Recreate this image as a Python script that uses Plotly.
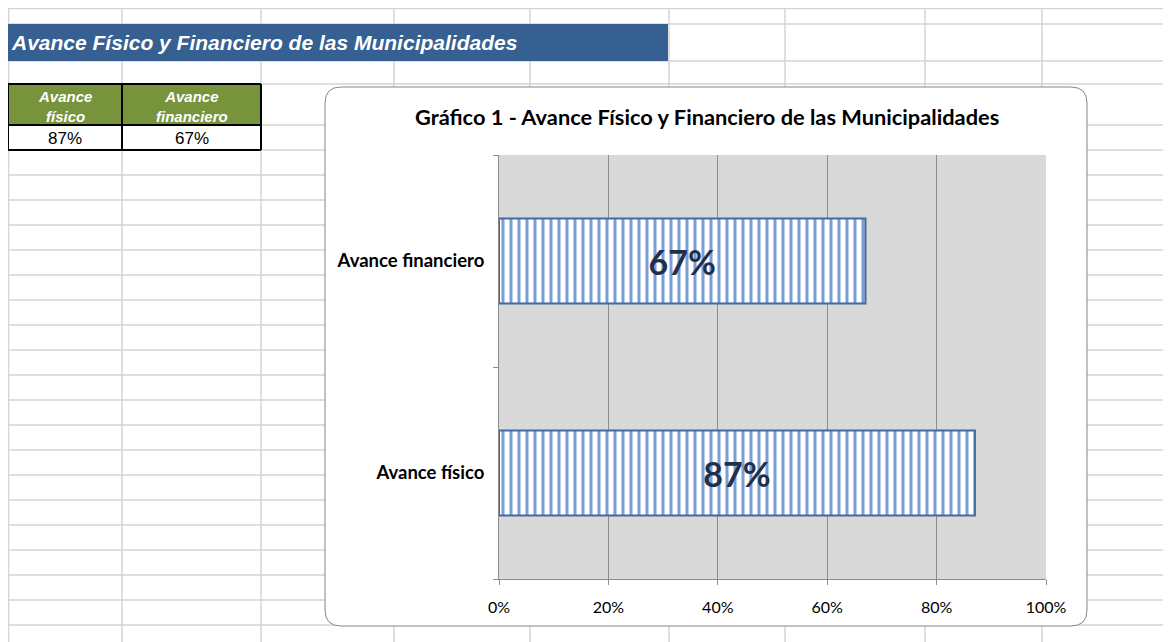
import plotly.graph_objects as go

W, H = 1171, 642
OFF = 8  # page body margin offset of the rendered figure

# ---- data ----
categories = ["Avance físico", "Avance financiero"]
values = [0.87, 0.67]
table_headers = ["Avance<br>físico", "Avance<br>financiero"]
table_values = ["87%", "67%"]
sheet_title = "Avance Físico y Financiero de las Municipalidades"
chart_title = "Gráfico 1 - Avance Físico y Financiero de las Municipalidades"


def X(px):
    return (px - OFF) / W


def Y(py):
    return 1 - (py - OFF) / H


shapes = []
annotations = []

GRID = "#D4D4D4"
col_x = [8.5, 122, 261, 394, 530, 669, 785, 925, 1042]
row_y = [8.5, 24, 61, 84, 125] + [150 + 25 * k for k in range(20)]

for cx in col_x:
    shapes.append(dict(type="line", xref="paper", yref="paper", x0=X(cx), x1=X(cx),
                       y0=Y(650), y1=Y(8), line=dict(color=GRID, width=1.5), layer="below"))
for ry in row_y:
    if ry > H:
        continue
    shapes.append(dict(type="line", xref="paper", yref="paper", x0=X(8), x1=X(1171),
                       y0=Y(ry), y1=Y(ry), line=dict(color=GRID, width=1.5), layer="below"))

# title bar
shapes.append(dict(type="rect", xref="paper", yref="paper", x0=X(7), x1=X(668),
                   y0=Y(61), y1=Y(24), fillcolor="#366092", line=dict(width=0), layer="below"))
annotations.append(dict(xref="paper", yref="paper", x=X(9), y=Y(43), xanchor="left",
                        yanchor="middle", showarrow=False,
                        text="<b><i>" + sheet_title + "</i></b>",
                        font=dict(family="Liberation Sans", size=21, color="white")))

# table
tx = [8, 122, 261]
shapes.append(dict(type="rect", xref="paper", yref="paper", x0=X(8), x1=X(261),
                   y0=Y(125), y1=Y(84), fillcolor="#77933C", line=dict(width=0), layer="below"))
shapes.append(dict(type="rect", xref="paper", yref="paper", x0=X(8), x1=X(261),
                   y0=Y(150), y1=Y(125), fillcolor="white", line=dict(width=0), layer="below"))
for cx in tx:
    shapes.append(dict(type="line", xref="paper", yref="paper", x0=X(cx), x1=X(cx),
                       y0=Y(150), y1=Y(84), line=dict(color="black", width=2), layer="below"))
for ry in [84, 125, 150]:
    shapes.append(dict(type="line", xref="paper", yref="paper", x0=X(8), x1=X(261),
                       y0=Y(ry), y1=Y(ry), line=dict(color="black", width=2), layer="below"))
for i in range(2):
    cxm = (tx[i] + tx[i + 1]) / 2
    annotations.append(dict(xref="paper", yref="paper", x=X(cxm), y=Y(106), showarrow=False,
                            xanchor="center", yanchor="middle",
                            text="<b><i>" + table_headers[i] + "</i></b>",
                            font=dict(family="Liberation Sans", size=15, color="white")))
    annotations.append(dict(xref="paper", yref="paper", x=X(cxm), y=Y(138), showarrow=False,
                            xanchor="center", yanchor="middle", text=table_values[i],
                            font=dict(family="Liberation Sans", size=17, color="black")))

# chart box (rounded rect)
x0, x1, y0, y1, r = 325, 1087, 87, 626, 16
path = (f"M {X(x0 + r)},{Y(y0)} L {X(x1 - r)},{Y(y0)} Q {X(x1)},{Y(y0)} {X(x1)},{Y(y0 + r)} "
        f"L {X(x1)},{Y(y1 - r)} Q {X(x1)},{Y(y1)} {X(x1 - r)},{Y(y1)} "
        f"L {X(x0 + r)},{Y(y1)} Q {X(x0)},{Y(y1)} {X(x0)},{Y(y1 - r)} "
        f"L {X(x0)},{Y(y0 + r)} Q {X(x0)},{Y(y0)} {X(x0 + r)},{Y(y0)} Z")
shapes.append(dict(type="path", xref="paper", yref="paper", path=path, fillcolor="white",
                   line=dict(color="#868686", width=1), layer="below"))
# plot area background
shapes.append(dict(type="rect", xref="x domain", yref="y domain", x0=0, x1=1, y0=0, y1=1,
                   fillcolor="#D9D9D9", line=dict(width=0), layer="below"))

annotations.append(dict(xref="paper", yref="paper", x=X(707), y=Y(117), showarrow=False,
                        xanchor="center", yanchor="middle", text="<b>" + chart_title + "</b>",
                        font=dict(family="Lato", size=21.8, color="black")))

fig = go.Figure(go.Bar(
    x=values, y=categories, orientation="h", width=0.4,
    marker=dict(color="white", line=dict(color="#4169A3", width=2),
                pattern=dict(shape="|", bgcolor="white", fgcolor="#7A9FD3", size=8,
                             solidity=0.38, fillmode="replace")),
    texttemplate="<b>%{x:.0%}</b>", textposition="inside", insidetextanchor="middle",
    textfont=dict(family="Lato", size=34, color="#1F2F4E"),
    hoverinfo="skip",
))

fig.update_layout(
    width=W, height=H, margin=dict(l=0, r=0, t=0, b=0),
    paper_bgcolor="white", plot_bgcolor="rgba(0,0,0,0)",
    showlegend=False, shapes=shapes, annotations=annotations,
    xaxis=dict(domain=[X(499), X(1046)], range=[0, 1], dtick=0.2, tickformat=".0%",
               showgrid=True, gridcolor="#8C8C8C", gridwidth=1, zeroline=False,
               showline=True, linecolor="#8C8C8C", ticks="outside", ticklen=5,
               tickcolor="#8C8C8C", ticklabelstandoff=9, automargin=False,
               tickfont=dict(family="Lato", size=16, color="black"), fixedrange=True),
    yaxis=dict(domain=[Y(579), Y(155)], range=[-0.5, 1.5], type="category",
               showgrid=False, showline=True, linecolor="#8C8C8C", ticks="outside",
               tickson="boundaries", ticklen=5, tickcolor="#8C8C8C", ticklabelstandoff=10,
               tickprefix="<b>", ticksuffix="</b>", automargin=False,
               tickfont=dict(family="Lato", size=18.5, color="black"), fixedrange=True),
)

fig.write_html("out.html")
